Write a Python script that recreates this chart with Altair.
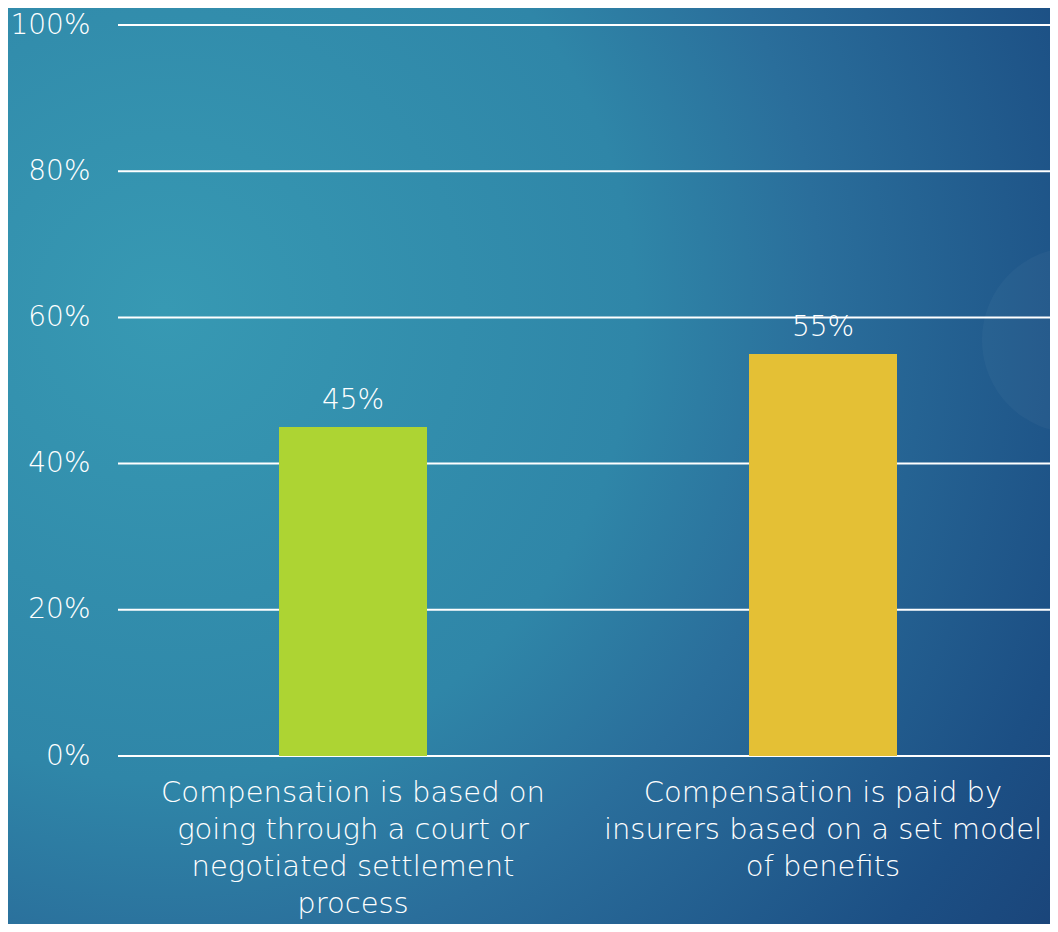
import altair as alt
import pandas as pd

categories = [
    "Compensation is based on\ngoing through a court or\nnegotiated settlement\nprocess",
    "Compensation is paid by\ninsurers based on a set model\nof benefits",
]
values = [0.45, 0.55]
bar_colors = ["#add433", "#e4c035"]
tick_values = [0.0, 0.2, 0.4, 0.6, 0.8, 1.0]

FONT = "DejaVu Sans"
W, H = 932, 731
PAD = {"left": 110, "top": 17, "right": 0, "bottom": 168}

df = pd.DataFrame({"cat": categories, "val": values, "color": bar_colors})
grid_df = pd.DataFrame({"t": tick_values})

bg = alt.Chart(pd.DataFrame({"a": [0]})).mark_rect(
    fill={
        "gradient": "radial",
        "x1": 0.15, "y1": 0.35, "r1": 0.0,
        "x2": 0.15, "y2": 0.35, "r2": 1.05,
        "stops": [
            {"offset": 0.0, "color": "#3799b3"},
            {"offset": 0.43, "color": "#2f86a8"},
            {"offset": 0.6, "color": "#2a6e9b"},
            {"offset": 0.87, "color": "#1c4f84"},
            {"offset": 1.0, "color": "#1a4479"},
        ],
    },
    stroke=None,
).encode(
    x=alt.value(-PAD["left"]),
    x2=alt.value(W + PAD["right"]),
    y=alt.value(-PAD["top"]),
    y2=alt.value(H + PAD["bottom"]),
)

deco = alt.Chart(pd.DataFrame({"a": [0]})).mark_circle(
    color="white", opacity=0.03, size=34600
).encode(x=alt.value(957), y=alt.value(315))

grid = alt.Chart(grid_df).mark_rule(color="white", strokeWidth=2).encode(
    y=alt.Y("t:Q", scale=alt.Scale(domain=[0, 1], nice=False)),
    x=alt.value(0),
    x2=alt.value(940),
)

x_enc = alt.X(
    "cat:N",
    sort=categories,
    scale=alt.Scale(paddingInner=0, paddingOuter=0, range=[0, 940]),
    axis=alt.Axis(
        title=None,
        labelAngle=0,
        domain=False,
        ticks=False,
        labelExpr="split(datum.label, '\\n')",
        labelFont=FONT,
        labelFontWeight=200,
        labelFontSize=29,
        labelLineHeight=37,
        labelColor="white",
        labelPadding=22,
        labelLimit=600,
        zindex=1,
    ),
)
y_enc = alt.Y(
    "val:Q",
    scale=alt.Scale(domain=[0, 1], nice=False),
    axis=alt.Axis(
        title=None,
        values=tick_values,
        format=".0%",
        grid=False,
        domain=False,
        ticks=False,
        labelFont=FONT,
        labelFontWeight=200,
        labelFontSize=28,
        labelColor="white",
        labelPadding=28,
        zindex=1,
    ),
)

bars = alt.Chart(df).mark_bar(size=148).encode(
    x=x_enc,
    y=y_enc,
    color=alt.Color("color:N", scale=None, legend=None),
)

labels = alt.Chart(df).mark_text(
    font=FONT, fontWeight=200, fontSize=28, color="white",
    baseline="alphabetic", dy=-18,
).encode(
    x=alt.X("cat:N", sort=categories),
    y=alt.Y("val:Q"),
    text=alt.Text("val:Q", format=".0%"),
)

chart = alt.layer(bg, deco, grid, bars, labels).properties(
    width=W,
    height=H,
    padding=PAD,
    autosize=alt.AutoSizeParams(type="none"),
    background="#2a6f9c",
).configure_view(stroke=None)

chart.save("out.html", embed_options={"renderer": "svg", "actions": False})
